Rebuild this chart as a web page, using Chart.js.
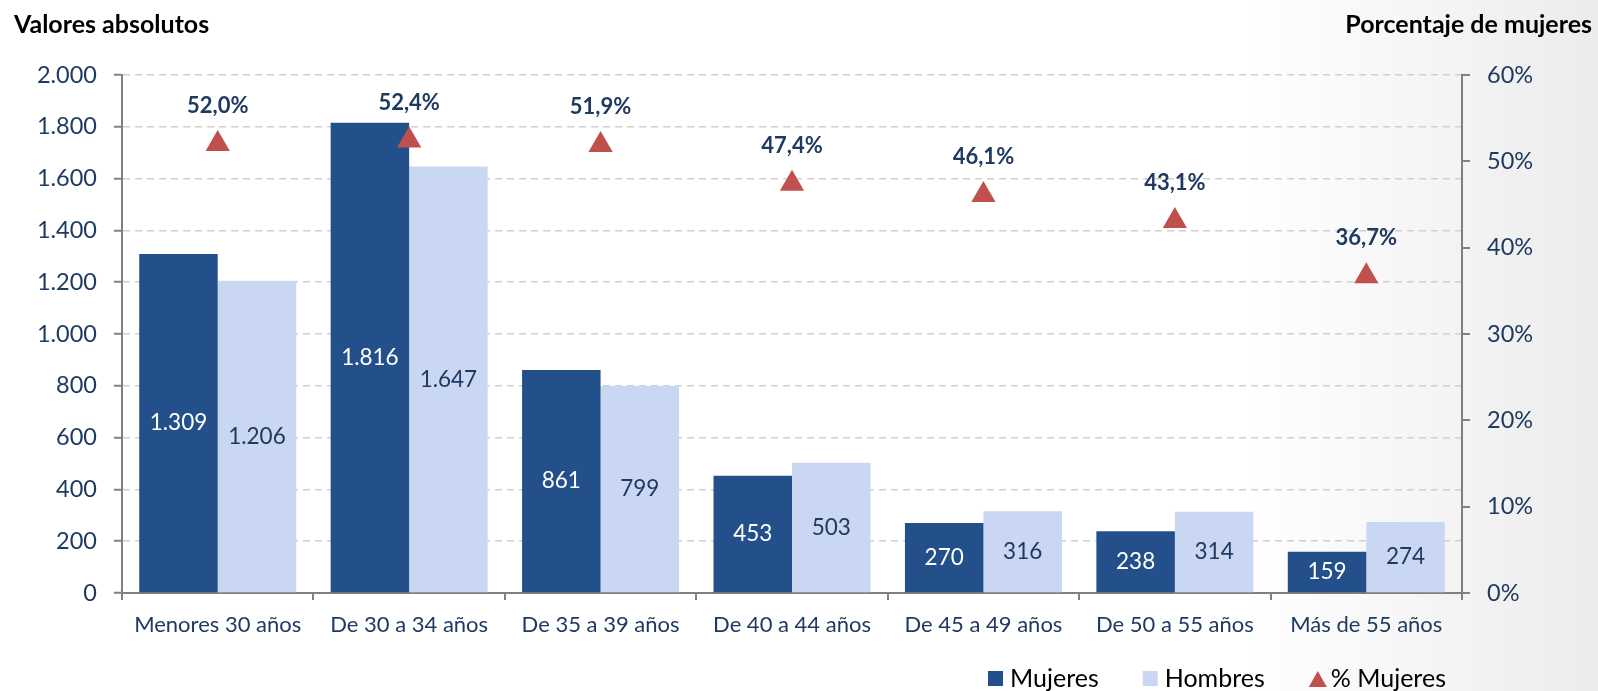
<!DOCTYPE html>
<html lang="es">
<head>
  <meta charset="UTF-8" />
  <title>Mujeres y hombres por edad</title>
  <style>
    html, body { margin: 0; padding: 0; overflow: hidden; }
    body { background: linear-gradient(to right, #ffffff 78%, #ececec 100%); }
    .wrap { position: relative; width: 1598px; height: 691px; }
  </style>
</head>
<body>
<div class="wrap">
  <canvas id="grafico"></canvas>
</div>

<script src="https://cdn.jsdelivr.net/npm/chart.js"></script>
<script>
  const categorias = [
    "Menores 30 años", "De 30 a 34 años", "De 35 a 39 años", "De 40 a 44 años",
    "De 45 a 49 años", "De 50 a 55 años", "Más de 55 años"
  ];
  const mujeres = [1309, 1816, 861, 453, 270, 238, 159];
  const hombres = [1206, 1647, 799, 503, 316, 314, 274];
  const pctMujeres = [52.0, 52.4, 51.9, 47.4, 46.1, 43.1, 36.7];

  const AZUL = "#23508a";
  const CELESTE = "#c9d7f2";
  const ROJO = "#c0504d";
  const TEXTO = "#1f3a60";
  const FUENTE = "Lato, 'Open Sans', sans-serif";

  // 1309 -> "1.309"
  function miles(n) {
    return String(n).replace(/\B(?=(\d{3})+(?!\d))/g, ".");
  }

  // etiquetas de barras y porcentajes
  const etiquetas = {
    id: "etiquetas",
    afterDatasetsDraw(chart) {
      const ctx = chart.ctx;
      ctx.save();
      ctx.textAlign = "center";
      ctx.textBaseline = "middle";
      chart.data.datasets.forEach((ds, i) => {
        const meta = chart.getDatasetMeta(i);
        meta.data.forEach((el, j) => {
          const v = ds.data[j];
          if (ds.type === "line") {
            ctx.font = "bold 22px " + FUENTE;
            ctx.fillStyle = TEXTO;
            ctx.fillText(v.toFixed(1).replace(".", ",") + "%", el.x, el.y - 38);
          } else {
            ctx.font = "22.5px " + FUENTE;
            ctx.fillStyle = i === 1 ? "#ffffff" : TEXTO;
            ctx.fillText(miles(v), el.x, (el.y + el.base) / 2);
          }
        });
      });
      ctx.restore();
    }
  };

  // titulos de ejes y leyenda
  const extras = {
    id: "extras",
    afterDraw(chart) {
      const ctx = chart.ctx;
      ctx.save();
      ctx.font = "bold 25px " + FUENTE;
      ctx.fillStyle = "#000";
      ctx.textBaseline = "middle";
      ctx.textAlign = "left";
      ctx.fillText("Valores absolutos", 14, 25);
      ctx.textAlign = "right";
      ctx.fillText("Porcentaje de mujeres", 1592, 25);

      // leyenda
      ctx.textAlign = "left";
      ctx.font = "25px " + FUENTE;
      const y = 679;
      let x = 988;
      const orden = [1, 2, 0];
      orden.forEach(i => {
        const ds = chart.data.datasets[i];
        ctx.fillStyle = ds.backgroundColor;
        if (ds.type === "line") {
          ctx.beginPath();
          ctx.moveTo(x, y + 8);
          ctx.lineTo(x + 18, y + 8);
          ctx.lineTo(x + 9, y - 8);
          ctx.closePath();
          ctx.fill();
          x += 22;
        } else {
          ctx.fillRect(x, y - 8, 15, 15);
          x += 22;
        }
        ctx.fillStyle = "#000";
        ctx.fillText(ds.label, x, y);
        x += ctx.measureText(ds.label).width + 44;
      });
      ctx.restore();
    }
  };

  new Chart(document.getElementById("grafico"), {
    type: "bar",
    data: {
      labels: categorias,
      datasets: [
        {
          type: "line",
          label: "% Mujeres",
          data: pctMujeres,
          yAxisID: "y1",
          showLine: false,
          pointStyle: "triangle",
          pointRadius: 14,
          pointHoverRadius: 14,
          backgroundColor: ROJO,
          borderColor: ROJO,
          pointBorderWidth: 0,
          order: 0
        },
        {
          label: "Mujeres",
          data: mujeres,
          backgroundColor: AZUL,
          yAxisID: "y",
          order: 1
        },
        {
          label: "Hombres",
          data: hombres,
          backgroundColor: CELESTE,
          yAxisID: "y",
          order: 1
        }
      ]
    },
    options: {
      responsive: true,
      maintainAspectRatio: false,
      animation: false,
      datasets: {
        bar: { categoryPercentage: 0.82, barPercentage: 1.0 }
      },
      layout: { padding: { top: 75, left: 0, right: 0, bottom: 0 } },
      plugins: {
        legend: { display: false },
        tooltip: { enabled: false }
      },
      scales: {
        x: {
          afterFit: s => { s.height = 98; },
          grid: {
            offset: true,
            drawOnChartArea: false,
            color: "#808080",
            tickLength: 7,
            lineWidth: 2
          },
          border: { color: "#808080", width: 2 },
          ticks: {
            color: TEXTO,
            padding: 12,
            font: { family: FUENTE, size: 22 }
          }
        },
        y: {
          position: "left",
          min: 0,
          max: 2000,
          afterFit: s => { s.width = 122; },
          grid: {
            color: "#d0d0d0",
            lineWidth: 1.5,
            tickColor: "#808080",
            tickWidth: 2,
            tickLength: 8,
            tickBorderDash: []
          },
          border: { color: "#808080", width: 2, dash: [7, 5] },
          ticks: {
            stepSize: 200,
            padding: 17,
            color: TEXTO,
            font: { family: FUENTE, size: 23.5 },
            callback: v => miles(v)
          }
        },
        y1: {
          position: "right",
          min: 0,
          max: 60,
          afterFit: s => { s.width = 136; },
          grid: {
            drawOnChartArea: false,
            color: "#808080",
            tickLength: 8,
            lineWidth: 2
          },
          border: { color: "#808080", width: 2 },
          ticks: {
            stepSize: 10,
            padding: 17,
            color: TEXTO,
            font: { family: FUENTE, size: 23.5 },
            callback: v => v + "%"
          }
        }
      }
    },
    plugins: [etiquetas, extras]
  });
</script>
</body>
</html>
